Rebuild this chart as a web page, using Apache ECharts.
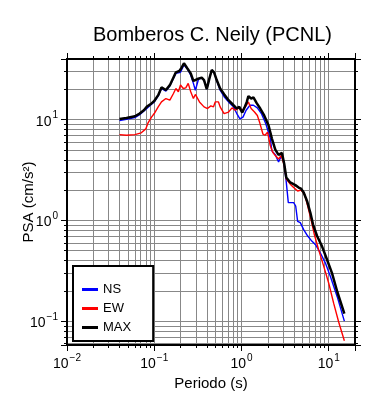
<!DOCTYPE html>
<html lang="es">
<head>
  <meta charset="UTF-8" />
  <title>Bomberos C. Neily (PCNL)</title>
  <script src="https://cdn.jsdelivr.net/npm/echarts@6/dist/echarts.min.js"></script>
  <style>
    html, body { margin: 0; padding: 0; background: #fff; }
    #chart { width: 390px; height: 400px; }
  </style>
</head>
<body>
  <div id="chart"></div>
  <script>
    // [periodo (s), PSA (cm/s2)]
    var nsData = [
      [0.040, 9.8], [0.048, 10.1], [0.060, 10.5], [0.068, 11.2], [0.078, 12.4], [0.093, 14.2],
      [0.100, 15.0], [0.111, 17.2], [0.121, 20.4], [0.136, 19.2], [0.151, 21.7], [0.177, 28.8],
      [0.200, 29.5], [0.219, 35.0], [0.239, 32.0], [0.262, 27.7], [0.281, 22.9], [0.296, 19.6],
      [0.322, 25.3], [0.350, 25.8], [0.372, 24.7], [0.400, 20.1], [0.429, 25.7], [0.456, 31.0],
      [0.485, 29.3], [0.520, 24.5], [0.569, 19.6], [0.632, 16.9], [0.710, 15.0], [0.810, 13.4],
      [0.883, 11.5], [0.960, 10.2], [1.04, 10.6], [1.13, 12.4], [1.25, 13.9], [1.37, 13.9],
      [1.52, 13.1], [1.69, 11.5], [1.90, 9.1], [2.14, 6.5], [2.23, 4.9], [2.44, 4.5],
      [2.66, 3.8], [2.91, 4.5], [3.09, 3.6], [3.26, 2.4], [3.44, 1.5], [3.62, 1.48],
      [3.96, 1.5], [4.18, 1.39], [4.40, 0.98], [4.72, 0.95], [5.16, 0.81], [5.74, 0.70],
      [6.43, 0.62], [7.05, 0.575], [8.02, 0.475], [9.16, 0.377], [10.45, 0.278], [12.5, 0.175],
      [15.1, 0.100]
    ];
    var ewData = [
      [0.040, 7.1], [0.048, 7.0], [0.060, 7.1], [0.071, 7.4], [0.080, 8.1], [0.085, 9.3],
      [0.093, 10.6], [0.100, 11.5], [0.111, 13.4], [0.121, 15.0], [0.136, 16.2], [0.151, 15.6],
      [0.166, 18.2], [0.177, 20.4], [0.189, 18.9], [0.200, 22.1], [0.215, 20.4], [0.230, 20.7],
      [0.245, 22.9], [0.262, 18.9], [0.281, 16.2], [0.296, 17.8], [0.330, 15.0], [0.372, 13.4],
      [0.408, 12.9], [0.445, 13.7], [0.478, 13.4], [0.500, 15.0], [0.545, 15.0], [0.569, 13.4],
      [0.632, 11.5], [0.710, 11.9], [0.780, 13.1], [0.850, 12.4], [0.935, 13.1], [1.02, 12.4],
      [1.11, 13.4], [1.20, 15.0], [1.29, 12.9], [1.41, 11.9], [1.52, 11.0], [1.62, 9.3],
      [1.76, 7.2], [1.86, 7.0], [1.99, 7.5], [2.14, 5.5], [2.28, 4.75], [2.44, 4.4],
      [2.66, 4.07], [2.84, 4.4], [3.09, 3.55], [3.26, 2.57], [3.62, 2.29], [3.96, 2.12],
      [4.40, 1.96], [4.81, 2.0], [5.29, 1.82], [5.74, 1.39], [6.27, 1.02], [6.85, 0.72],
      [7.67, 0.51], [8.77, 0.35], [10.0, 0.238], [11.4, 0.15], [13.0, 0.098], [15.1, 0.064]
    ];
    var maxData = [
      [0.040, 10.15], [0.048, 10.4], [0.060, 10.8], [0.068, 11.5], [0.076, 12.4], [0.082, 13.4],
      [0.093, 14.5], [0.100, 15.3], [0.111, 17.5], [0.121, 20.9], [0.136, 19.7], [0.151, 22.0],
      [0.177, 29.5], [0.194, 30.4], [0.206, 32.8], [0.219, 36.3], [0.239, 32.4], [0.262, 28.8],
      [0.281, 24.2], [0.312, 25.3], [0.350, 26.1], [0.372, 24.7], [0.400, 20.1], [0.429, 25.7],
      [0.456, 31.1], [0.485, 29.5], [0.520, 24.7], [0.569, 20.4], [0.632, 17.9], [0.710, 15.6],
      [0.810, 13.9], [0.883, 12.9], [0.943, 13.4], [1.02, 11.75], [1.08, 13.1], [1.15, 15.0],
      [1.20, 17.1], [1.29, 16.2], [1.37, 16.6], [1.50, 14.5], [1.64, 12.9], [1.82, 11.0],
      [2.04, 8.8], [2.23, 6.5], [2.44, 5.05], [2.66, 4.47], [2.91, 4.68], [3.09, 3.63],
      [3.26, 2.67], [3.62, 2.38], [4.14, 2.24], [4.52, 2.12], [4.81, 2.07], [5.16, 1.89],
      [5.64, 1.56], [6.16, 1.19], [6.61, 0.91], [7.35, 0.70], [8.38, 0.553], [9.57, 0.407],
      [10.9, 0.30], [12.5, 0.197], [15.1, 0.119]
    ];
    var seriesNames = ["NS", "EW", "MAX"];
    var seriesColors = ["#0000ff", "#ff0000", "#000000"];
    var xMin = 0.01, xMax = 20;
    var yMin = 0.058, yMax = 40;

    var FONT = "Liberation Sans, Arial, Helvetica, sans-serif";

    function $_(id) {
      return document.getElementById(id);
    }

    // 10^n labels, only at whole decades
    function powLabel(v) {
      var e = Math.log10(v);
      if (Math.abs(e - Math.round(e)) > 1e-6) return "";
      e = Math.round(e);
      return "{b|10}{e|" + (e < 0 ? "\u2212" + (-e) : e) + "}";
    }

    var labelRich = {
      b: { fontSize: 14, fontFamily: FONT, color: "#000", verticalAlign: "bottom", lineHeight: 18 },
      e: { fontSize: 10, fontFamily: FONT, color: "#000", verticalAlign: "top", lineHeight: 10, padding: [0, 0, 0, 1] }
    };

    function logAxis(extra) {
      var ax = {
        type: "log",
        logBase: 10,
        axisLine: { show: true, onZero: false, lineStyle: { color: "#000", width: 2 } },
        axisTick: { show: true, inside: false, length: 6, lineStyle: { color: "#000", width: 1 } },
        minorTick: { show: true, splitNumber: 9, length: 3, lineStyle: { color: "#000", width: 1 } },
        splitLine: { show: false },
        minorSplitLine: { show: false },
        axisLabel: { show: false }
      };
      for (var k in extra) ax[k] = extra[k];
      return ax;
    }

    var chart = echarts.init($_("chart"), null, { renderer: "canvas" });

    var series = [nsData, ewData, maxData].map(function(d, i) {
      return {
        name: seriesNames[i],
        type: "line",
        data: d,
        showSymbol: false,
        symbol: "none",
        silent: true,
        z: 3 + i,
        lineStyle: { color: seriesColors[i], width: i === 2 ? 2.5 : 1.4 },
        itemStyle: { color: seriesColors[i] }
      };
    });

    chart.setOption({
      backgroundColor: "#fff",
      animation: false,
      title: {
        text: "Bomberos C. Neily (PCNL)",
        left: 88,
        top: 20,
        textStyle: { fontFamily: FONT, fontSize: 20, fontWeight: "normal", color: "#000" }
      },
      grid: {
        left: 67, right: 35, top: 59, bottom: 55,
        show: true, borderColor: "#000", borderWidth: 2, backgroundColor: "transparent"
      },
      legend: {
        data: seriesNames.map(function(n, i) {
          return { name: n, icon: "rect", itemStyle: { color: seriesColors[i] } };
        }),
        orient: "vertical",
        left: 73,
        top: 266,
        itemWidth: 16,
        itemHeight: 3,
        itemGap: 6,
        padding: [17, 22, 7, 9],
        backgroundColor: "#fff",
        borderColor: "#000",
        borderWidth: 2,
        borderRadius: 0,
        selectedMode: false,
        textStyle: { fontFamily: FONT, fontSize: 13, color: "#000" }
      },
      xAxis: [
        logAxis({
          min: xMin, max: xMax, position: "bottom",
          name: "Periodo (s)", nameLocation: "middle", nameGap: 31, nameMoveOverlap: false,
          nameTextStyle: { fontFamily: FONT, fontSize: 15, color: "#000" },
          splitLine: { show: true, lineStyle: { color: "#888", width: 1 } },
          minorSplitLine: { show: true, lineStyle: { color: "#888", width: 1 } },
          axisLabel: { show: true, margin: 8, formatter: powLabel, rich: labelRich, showMinLabel: true, showMaxLabel: true }
        }),
        logAxis({ min: xMin, max: xMax, position: "top" })
      ],
      yAxis: [
        logAxis({
          min: yMin, max: yMax, position: "left",
          name: "PSA (cm/s\u00b2)", nameLocation: "middle", nameGap: 31, nameMoveOverlap: false,
          nameTextStyle: { fontFamily: FONT, fontSize: 15, color: "#000" },
          splitLine: { show: true, lineStyle: { color: "#888", width: 1 } },
          minorSplitLine: { show: true, lineStyle: { color: "#888", width: 1 } },
          axisLabel: { show: true, margin: 9, formatter: powLabel, rich: labelRich }
        }),
        logAxis({ min: yMin, max: yMax, position: "right" })
      ],
      series: series
    });
  </script>
</body>
</html>
